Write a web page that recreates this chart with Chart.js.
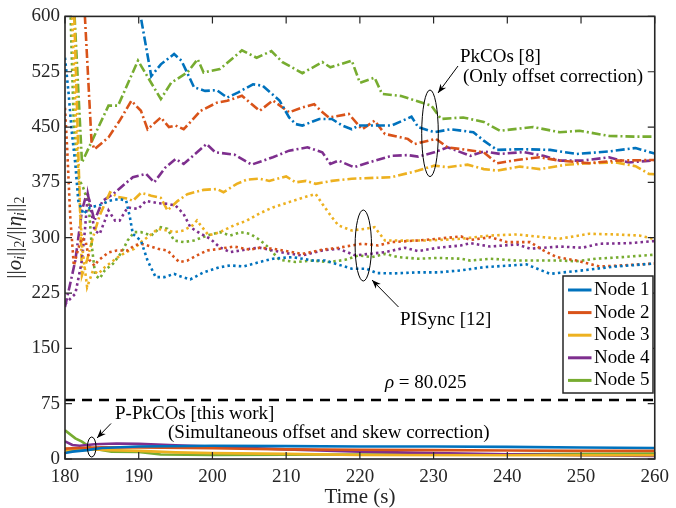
<!DOCTYPE html>
<html>
<head>
<meta charset="utf-8">
<script src="https://cdn.jsdelivr.net/npm/chart.js@4"></script>
<style>
  body { margin: 0; background: #fff; }
</style>
</head>
<body>
<canvas id="chart" width="676" height="508"></canvas>
<script>
// axis ticks
const timeTicks = [180, 190, 200, 210, 220, 230, 240, 250, 260];
const valueTicks = [0, 75, 150, 225, 300, 375, 450, 525, 600];
const nodeNames = ["Node 1", "Node 2", "Node 3", "Node 4", "Node 5"];
const rho = 80.025;

// PkCOs [8] (dash-dot), [time, value]
const pkcos1 = [[180, 900], [186, 760], [189, 660], [190.3, 598], [191.7, 519], [193, 535], [194.8, 549], [195.8, 540],
  [197.5, 504], [199, 499], [200.6, 500], [202, 490], [203.5, 497], [205.5, 508], [206.8, 506], [209.1, 486], [210.4, 463],
  [211.3, 454], [212.2, 452], [214.5, 461], [216.2, 461], [217.6, 452], [218.9, 447], [219.8, 452], [224.3, 452], [227, 464],
  [227.9, 450], [230.1, 443], [232.3, 447], [235.4, 443], [236.8, 431.6], [238.6, 419], [242, 420], [245.8, 419],
  [249.4, 413.5], [253.8, 417], [257.4, 421.6], [260, 414]];
const pkcos2 = [[180, 900], [182, 750], [182.7, 600], [183.6, 430], [184, 420], [185.9, 436], [187.5, 460], [189, 485.6],
  [190.3, 472], [191.2, 447], [193, 463], [194.1, 450], [195, 452], [196.1, 447], [198.4, 472], [200.6, 483], [202, 485.6],
  [204, 492.4], [206.4, 472], [208.2, 486], [210.4, 470], [212.2, 476.6], [213.8, 481], [214.7, 472], [215.8, 463],
  [218.5, 467.7], [220.3, 447], [222, 458.6], [223.4, 440.6], [226.5, 434], [227.4, 427], [230.3, 434], [231.9, 422.5],
  [234.6, 419], [236.8, 415.7], [238.6, 401], [241.3, 405.4], [244.4, 409], [247.1, 404.5], [251.1, 401], [254.7, 404.5],
  [260, 405.4]];
const pkcos3 = [[180, 900], [181.2, 620], [182.3, 249], [183, 270], [183.8, 300.7], [184.7, 330], [186.1, 361.6],
  [187.2, 355], [188.5, 353], [189.2, 350], [190.3, 360.7], [191.7, 357], [193, 354], [193.9, 337], [195.3, 350],
  [196.6, 359], [198.8, 364.8], [200.6, 366], [201.5, 361.6], [203.3, 373], [204.7, 378.8], [206.4, 380], [207.7, 377],
  [210, 383], [211.3, 375], [212.7, 377], [214, 373], [216.2, 377], [218.9, 380], [224.3, 382], [227.9, 391],
  [230.1, 397.7], [231.9, 395.5], [234.6, 399], [236.8, 393], [238.6, 391], [241.7, 396.4], [244.4, 393], [248, 399],
  [251.1, 401], [254.7, 402], [257.4, 397], [259.2, 386.5], [260, 386]];
const pkcos4 = [[180, 206], [181.4, 269], [182.3, 337], [183, 362], [184, 323], [185.1, 350], [186.5, 359], [189.2, 382],
  [191, 386.5], [192.1, 375], [193.6, 395], [195, 406.8], [196.1, 400], [199.2, 427], [200.4, 415.7], [203, 412.6],
  [205.3, 399], [208.2, 409], [210.4, 418], [212.9, 422.5], [214.9, 415.7], [216, 400], [217.1, 404.5], [219.2, 395.5],
  [221.2, 402], [224.3, 411], [226.5, 412], [227.9, 410], [230.1, 415.7], [231.9, 422.5], [235, 411], [236.8, 417],
  [239, 413.6], [242.2, 416], [244.9, 411], [247.1, 404.5], [250.2, 404.5], [253.8, 409], [256.5, 402], [260, 405]];
const pkcos5 = [[180, 900], [181.2, 620], [182.3, 402], [184.1, 440.6], [185.9, 479], [187.2, 479], [189.9, 540],
  [193, 488], [194.4, 510], [196.6, 524], [198, 542], [198.8, 524], [201, 528.5], [204, 554], [206, 544], [208, 553],
  [209.5, 538], [212.2, 523], [214.9, 538], [216, 531], [218.9, 540], [220, 510], [222, 517], [223, 495], [225.6, 492],
  [229.7, 479], [231, 461], [234, 463], [236.8, 457], [239, 445], [243.5, 450], [247.1, 443], [249.8, 445], [253.8, 438],
  [257.4, 437], [260, 437]];

// PISync [12] (dotted)
const pisync1 = [[180, 544], [180.5, 494.6], [180.9, 445], [181.4, 400], [181.8, 350], [182.5, 332], [183.4, 341],
  [184.7, 344], [186, 350], [187.4, 352.6], [188.3, 350], [188.8, 328], [189.2, 305], [190.3, 296], [191.2, 269],
  [192.3, 246.6], [193.5, 246.6], [194.8, 251], [195.5, 248], [197, 243.5], [198.8, 253], [201, 260], [202.4, 262.4],
  [204.2, 261], [206.4, 267], [208.2, 271.5], [210.9, 273.7], [213.6, 269], [215.3, 269], [216.7, 264.7], [218.9, 258],
  [220.9, 258], [222.3, 252], [224.7, 251.6], [227.9, 253], [230.6, 253], [233.7, 255.7], [236.8, 260], [242.6, 263.8],
  [245.8, 251], [250.2, 255.7], [254.7, 261], [260, 265]];
const pisync2 = [[180, 476], [180.3, 420], [180.7, 330], [181.2, 262], [181.8, 285], [182.3, 300], [182.8, 295],
  [183.3, 270], [184, 262], [184.5, 269], [185.9, 280], [187, 282.7], [188.5, 282.7], [189.4, 289.5], [190.3, 291.8],
  [191.2, 289.5], [192.6, 285], [193.9, 282.7], [194.8, 273.7], [195.5, 267], [196.6, 269], [197.9, 276], [199.3, 282.7],
  [201, 285], [202.9, 288], [205.1, 283.7], [206.4, 286.4], [208.2, 285], [210.9, 280.4], [212.2, 278], [214.9, 283.7],
  [217.1, 286.4], [218.9, 289.5], [220.3, 291.8], [222.5, 289.5], [224.3, 294], [227.9, 296.3], [230.6, 298.6],
  [233.7, 301.7], [235, 297], [237.7, 300.7], [240, 294], [243.1, 294], [244.9, 282.7], [246.7, 273.7], [249.4, 269],
  [252.5, 261], [254.7, 262], [260, 265]];
const pisync3 = [[180, 900], [180.8, 650], [181.5, 450], [182.3, 290], [183, 233], [183.8, 255.7], [184.5, 251],
  [185.4, 260], [186.3, 267], [187.2, 273.7], [188.3, 280.4], [189.4, 285], [190.3, 294], [191.5, 303], [192.6, 312],
  [193.9, 309.8], [194.8, 307.5], [196.1, 309.8], [197.3, 316.6], [197.9, 323.3], [198.6, 314.3], [199.5, 303],
  [201, 307.5], [202.9, 316.6], [204.7, 323.3], [206.4, 333], [208.2, 341], [210.9, 350], [214, 359.4], [214.9, 346],
  [216.2, 327.8], [217.1, 316.6], [218.9, 309.8], [220.7, 312], [222, 314.3], [223.4, 296.3], [226.1, 296],
  [228.8, 296.3], [231, 297], [233.7, 298.6], [235, 300], [237.7, 303], [241.3, 304.4], [244.9, 300.7], [247.1, 298.6],
  [251.1, 305.3], [254.7, 304.4], [257.9, 303], [260, 298]];
const pisync4 = [[180, 210], [181.4, 224], [182.3, 269], [182.7, 310], [183.1, 359], [183.5, 340], [184, 310],
  [184.7, 305], [185.4, 323], [185.9, 337], [186.8, 323], [187.4, 323], [188.5, 341], [189.9, 339], [191, 350],
  [192.6, 346.7], [193.9, 346], [195, 343.6], [196.1, 332], [197, 314.3], [198.4, 305.3], [199.7, 298.6], [201, 287],
  [202.4, 280.4], [203.8, 282.7], [205.1, 285], [206.4, 286.4], [208.2, 282.7], [210, 279], [212.2, 276], [214.9, 282.7],
  [217.1, 285], [219.4, 276], [221.2, 278], [223.4, 280.4], [226.1, 286.4], [227.9, 281.8], [230.6, 286.4],
  [233.7, 289.5], [235, 292.6], [237.7, 288], [241.3, 290.9], [243.1, 285], [244.9, 286.4], [247.1, 288], [250.2, 286.4],
  [252.5, 291.8], [256.5, 292.6], [260, 295.4]];
const pisync5 = [[180, 900], [180.7, 620], [181.2, 450], [181.9, 380], [182.5, 367], [183.2, 346], [183.6, 291.8],
  [184.1, 249], [184.7, 244.5], [185.4, 255.7], [186.5, 264.7], [187.7, 280.4], [188.5, 296.3], [189.4, 307.5],
  [190.3, 307.5], [191.7, 303], [193, 314.3], [193.9, 312], [194.8, 296.3], [196.1, 294], [197.5, 296.3], [199.3, 303],
  [201, 307.5], [202.4, 303], [203.8, 307.5], [205.1, 305.3], [206.4, 297], [207.3, 289.5], [209.1, 270], [211.3, 267],
  [213.6, 269], [215.8, 267], [218, 270], [219.8, 276], [221.6, 273.7], [223.4, 278], [225.2, 273.7], [227.9, 271.5],
  [230.6, 272.6], [233.7, 271.5], [235, 269], [237.7, 271.5], [241.3, 269], [247.1, 269], [249.4, 268], [252, 271.5],
  [255.6, 273.7], [260, 277]];

// P-PkCOs [this work] (solid)
const ppkcos1 = [[180, 8], [181, 10], [183, 12], [185, 15], [190, 17], [200, 18], [210, 17.5], [220, 17], [230, 17],
  [240, 16.5], [250, 15.5], [260, 15]];
const ppkcos2 = [[180, 14], [182, 15], [185, 16], [190, 15.5], [200, 14.5], [210, 13], [220, 12.5], [230, 12],
  [240, 11.5], [250, 11], [260, 11]];
const ppkcos3 = [[180, 11], [182, 12], [184, 13], [186, 12], [190, 11], [195, 9], [200, 8], [210, 7], [220, 5.5],
  [240, 5], [260, 5]];
const ppkcos4 = [[180, 24], [181, 19], [182, 18], [184, 20], [187, 21], [190, 20.5], [195, 18.5], [200, 17], [205, 15],
  [210, 13], [220, 10], [230, 8], [240, 6.5], [250, 5], [260, 4]];
const ppkcos5 = [[180, 39], [181.4, 28], [182.3, 23.5], [183.6, 14.5], [186.3, 10], [190, 9.5], [193, 6], [200, 5.5],
  [220, 6], [240, 6.5], [260, 7.5]];

const nodeColors = ["#0072BD", "#D95319", "#EDB120", "#7E2F8E", "#77AC30"];
const serif = "'Liberation Serif', 'DejaVu Serif', serif";

const toPoints = arr => arr.map(p => ({ x: p[0], y: p[1] }));

function makeSet(arr, i, dash) {
  return {
    data: toPoints(arr),
    borderColor: nodeColors[i],
    borderWidth: 2.6,
    borderDash: dash,
    pointRadius: 0,
    tension: 0,
    fill: false
  };
}

const datasets = [];
[ppkcos1, ppkcos2, ppkcos3, ppkcos4, ppkcos5].forEach((s, i) => datasets.push(makeSet(s, i, [])));
[pisync1, pisync2, pisync3, pisync4, pisync5].forEach((s, i) => datasets.push(makeSet(s, i, [2.5, 3.2])));
[pkcos1, pkcos2, pkcos3, pkcos4, pkcos5].forEach((s, i) => datasets.push(makeSet(s, i, [9, 3, 2, 3])));
datasets.push({
  data: [{ x: timeTicks[0], y: rho }, { x: timeTicks[timeTicks.length - 1], y: rho }],
  borderColor: "#000",
  borderWidth: 2.5,
  borderDash: [10, 7],
  pointRadius: 0
});

function arrow(ctx, x1, y1, x2, y2) {
  ctx.beginPath();
  ctx.moveTo(x1, y1);
  ctx.lineTo(x2, y2);
  ctx.stroke();
  const a = Math.atan2(y2 - y1, x2 - x1);
  const c = Math.cos(a), s = Math.sin(a);
  const len = 9, w = 3.5;
  ctx.beginPath();
  ctx.moveTo(x2, y2);
  ctx.lineTo(x2 - len * c + w * s, y2 - len * s - w * c);
  ctx.lineTo(x2 - 0.7 * len * c, y2 - 0.7 * len * s);
  ctx.lineTo(x2 - len * c - w * s, y2 - len * s + w * c);
  ctx.closePath();
  ctx.fill();
}

function ellipse(ctx, cx, cy, rx, ry) {
  ctx.beginPath();
  ctx.ellipse(cx, cy, rx, ry, 0, 0, Math.PI * 2);
  ctx.stroke();
}

// y label pieces: ||o_i||_2 / ||eta_i||_2  -> [text, italic, subscript]
const yLabelParts = [
  ["||", 0, 0], ["o", 1, 0], ["i", 1, 1], ["||", 0, 0], ["2", 0, 1], ["/", 0, 0],
  ["||", 0, 0], ["\u03B7", 1, 0], ["i", 1, 1], ["||", 0, 0], ["2", 0, 1]
];

const decorations = {
  id: "decorations",
  afterDraw(chart) {
    const { ctx, chartArea: a, scales } = chart;
    const sx = scales.x, sy = scales.y;
    ctx.save();

    // inward ticks and box
    ctx.strokeStyle = "#262626";
    ctx.lineWidth = 1.2;
    ctx.beginPath();
    timeTicks.forEach(t => {
      const px = sx.getPixelForValue(t);
      ctx.moveTo(px, a.bottom); ctx.lineTo(px, a.bottom - 7);
      ctx.moveTo(px, a.top); ctx.lineTo(px, a.top + 7);
    });
    valueTicks.forEach(v => {
      const py = sy.getPixelForValue(v);
      ctx.moveTo(a.left, py); ctx.lineTo(a.left + 7, py);
      ctx.moveTo(a.right, py); ctx.lineTo(a.right - 7, py);
    });
    ctx.stroke();
    ctx.lineWidth = 1.6;
    ctx.strokeRect(a.left, a.top, a.right - a.left, a.bottom - a.top);

    // annotations
    ctx.strokeStyle = "#000";
    ctx.fillStyle = "#000";
    ctx.lineWidth = 1;
    ellipse(ctx, 430, 133.3, 8.3, 43.3);
    ellipse(ctx, 363.3, 245.5, 8.2, 35.5);
    ellipse(ctx, 91.7, 447, 4.3, 10);
    arrow(ctx, 458, 66, 438, 93);
    arrow(ctx, 398.5, 307, 372, 280);
    arrow(ctx, 111, 423.5, 97, 438);

    ctx.font = "19px " + serif;
    ctx.textBaseline = "middle";
    ctx.textAlign = "left";
    ctx.fillText("PkCOs [8]", 460, 57);
    ctx.fillText("(Only offset correction)", 463, 77);
    ctx.fillText("PISync [12]", 400, 320);
    ctx.fillText("P-PkCOs [this work]", 115, 414);
    ctx.fillText("(Simultaneous offset and skew correction)", 168, 433);
    ctx.font = "italic 19px " + serif;
    ctx.fillText("\u03C1", 385, 383);
    const rw = ctx.measureText("\u03C1").width;
    ctx.font = "19px " + serif;
    ctx.fillText(" = " + rho, 385 + rw, 383);

    // legend
    const lx = 563, ly = 276, lw = 90, lh = 117;
    ctx.fillStyle = "#fff";
    ctx.fillRect(lx, ly, lw, lh);
    ctx.strokeStyle = "#262626";
    ctx.lineWidth = 1.5;
    ctx.strokeRect(lx, ly, lw, lh);
    nodeNames.forEach((name, i) => {
      const yy = 290 + i * 22.6;
      ctx.strokeStyle = nodeColors[i];
      ctx.lineWidth = 3;
      ctx.beginPath();
      ctx.moveTo(568, yy); ctx.lineTo(591.5, yy);
      ctx.stroke();
      ctx.fillStyle = "#000";
      ctx.fillText(name, 594, yy);
    });

    // axis titles
    ctx.fillStyle = "#262626";
    ctx.font = "21px " + serif;
    ctx.textAlign = "center";
    ctx.fillText("Time (s)", (a.left + a.right) / 2, 497);

    ctx.translate(15, (a.top + a.bottom) / 2);
    ctx.rotate(-Math.PI / 2);
    ctx.textAlign = "left";
    const fontFor = p => (p[1] ? "italic " : "") + (p[2] ? "14px " : "21px ") + serif;
    let total = 0;
    yLabelParts.forEach(p => { ctx.font = fontFor(p); total += ctx.measureText(p[0]).width; });
    let cx = -total / 2;
    yLabelParts.forEach(p => {
      ctx.font = fontFor(p);
      ctx.fillText(p[0], cx, p[2] ? 5 : 0);
      cx += ctx.measureText(p[0]).width;
    });
    ctx.restore();
  }
};

new Chart(document.getElementById("chart").getContext("2d"), {
  type: "line",
  data: { datasets },
  options: {
    responsive: false,
    animation: false,
    events: [],
    layout: { padding: { left: 0, right: 15, top: 15, bottom: 0 } },
    plugins: { legend: { display: false }, tooltip: { enabled: false } },
    scales: {
      x: {
        type: "linear",
        min: timeTicks[0],
        max: timeTicks[timeTicks.length - 1],
        afterBuildTicks: s => { s.ticks = timeTicks.map(v => ({ value: v })); },
        afterFit: s => { s.height = 49; },
        grid: { display: false, drawTicks: false },
        border: { display: false },
        ticks: { font: { family: serif, size: 19 }, color: "#262626", padding: 7, maxRotation: 0 }
      },
      y: {
        min: valueTicks[0],
        max: valueTicks[valueTicks.length - 1],
        afterBuildTicks: s => { s.ticks = valueTicks.map(v => ({ value: v })); },
        afterFit: s => { s.width = 65; },
        grid: { display: false, drawTicks: false },
        border: { display: false },
        ticks: { font: { family: serif, size: 19 }, color: "#262626", padding: 5 }
      }
    }
  },
  plugins: [decorations]
});
</script>
</body>
</html>
